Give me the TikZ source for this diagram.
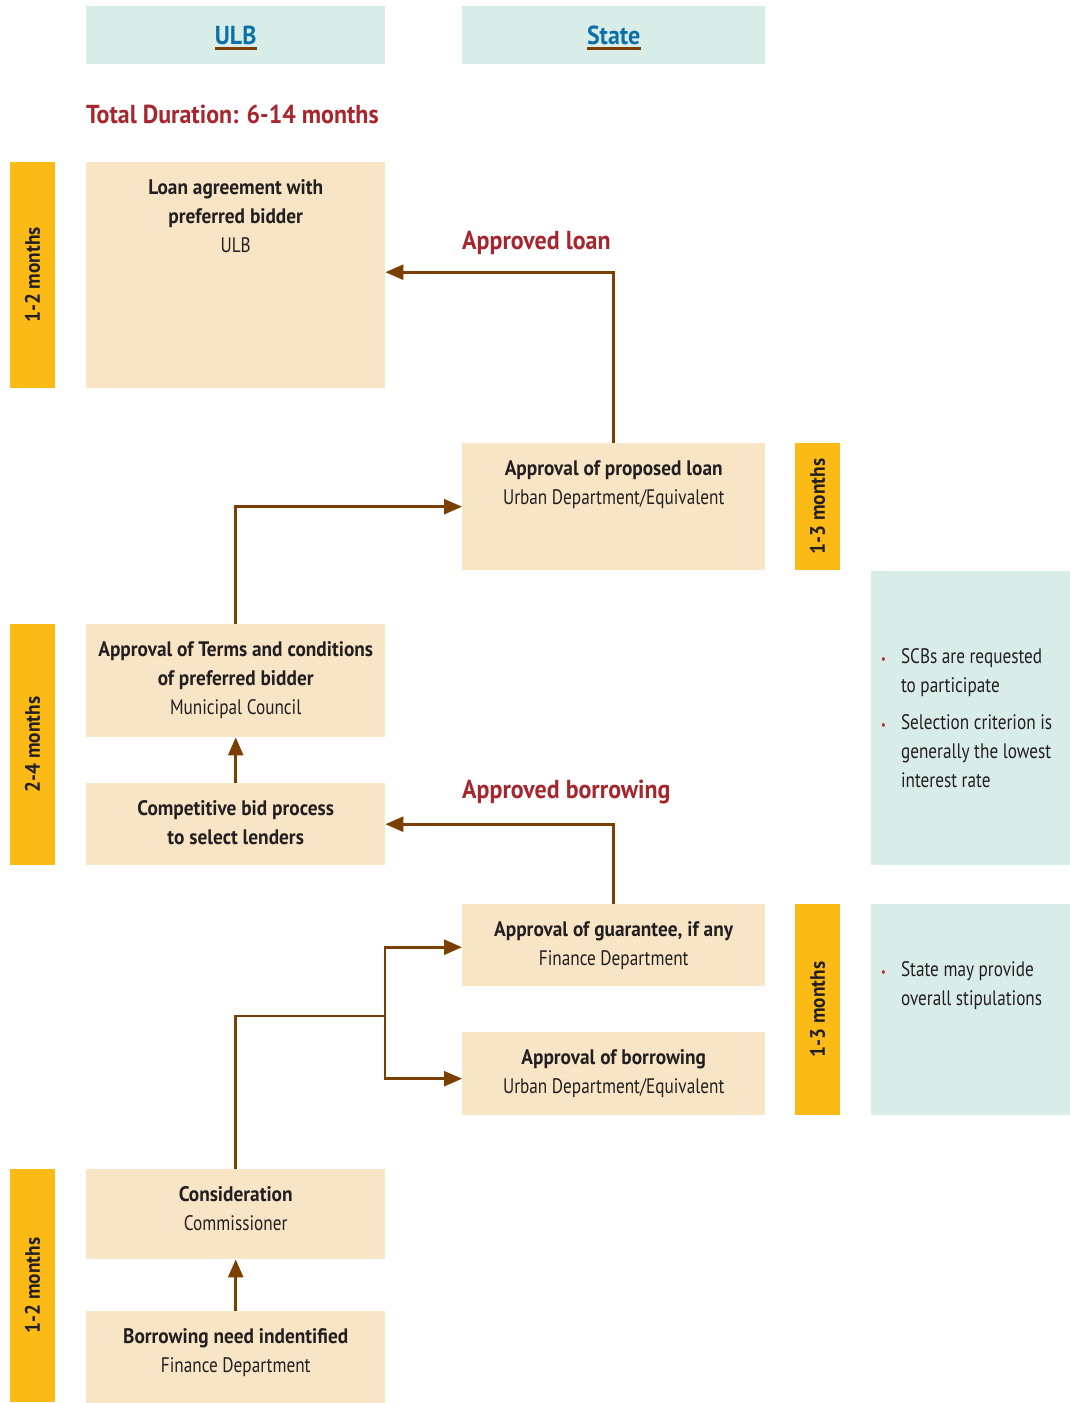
\documentclass[tikz,border=0pt]{standalone}
\usepackage{fontspec}
\setmainfont{PT Sans}[FakeStretch=0.82, BoldFeatures={FakeStretch=0.92}]
\usetikzlibrary{arrows.meta, positioning}
\definecolor{beige}{HTML}{F8E5C6}
\definecolor{tealbg}{HTML}{D9EDE8}
\definecolor{amber}{HTML}{FBBA16}
\definecolor{brownline}{HTML}{7B3F00}
\definecolor{darkred}{HTML}{A6262E}
\definecolor{headblue}{HTML}{0B6FA9}
\definecolor{textgray}{HTML}{231F20}
\definecolor{bulletred}{HTML}{B5283A}
\newcommand{\bul}{\textcolor{bulletred}{\fontsize{13}{13}\selectfont\textbullet}}
\tikzset{
  stepbox/.style={
    rectangle, fill=beige, anchor=north west, minimum width=299pt, inner sep=0pt
  },
  boxtext/.style={
    align=center, inner sep=0pt, text=textgray, anchor=north
  },
  headbox/.style={
    rectangle, fill=tealbg, anchor=north west, minimum height=58pt, inner sep=0pt
  },
  headtext/.style={
    font=\fontsize{26}{32}\selectfont\bfseries, text=headblue, inner sep=0pt
  },
  uline/.style={
    draw=brownline, line width=3pt
  },
  bar/.style={
    rectangle, fill=amber, rotate=90, minimum height=45pt, inner sep=0pt,
    font=\fontsize{21}{25}\selectfont\bfseries, text=textgray
  },
  notebox/.style={
    rectangle, fill=tealbg, anchor=north west, minimum width=199pt, inner sep=0pt
  },
  redtitle/.style={
    font=\fontsize{26}{32}\selectfont\bfseries, text=darkred, inner sep=0pt, anchor=west
  },
  flow/.style={
    draw=brownline, line width=2.6pt, -{Triangle[length=18pt, width=15pt]}
  }
}
\begin{document}
\begin{tikzpicture}[x=1pt, y=-1pt, font=\fontsize{21}{29}\selectfont]
\useasboundingbox (0,0) rectangle (1070,1403);

% column headers
\node[headbox, minimum width=299pt] (ulbh) at (86,6) {};
\node[headtext] (ulbt) at (ulbh.center) {ULB};
\draw[uline] ([yshift=-4pt]ulbt.south west) -- ([yshift=-4pt]ulbt.south east);
\node[headbox, minimum width=303pt] (stateh) at (462,6) {};
\node[headtext] (statet) at (stateh.center) {State};
\draw[uline] ([yshift=-4pt]statet.south west) -- ([yshift=-4pt]statet.south east);

\node[redtitle] (total) at (86,114) {Total Duration: 6-14 months};

% ULB steps
\node[stepbox, minimum height=226pt] (loan) at (86,162) {};
\node[boxtext, below=17pt of loan.north] (loant) {\textbf{Loan agreement with}\\\textbf{preferred bidder}\\ULB};
\node[stepbox, minimum height=113pt] (terms) at (86,624) {};
\node[boxtext, below=17pt of terms.north] (termst) {\textbf{Approval of Terms and conditions}\\\textbf{of preferred bidder}\\Municipal Council};
\node[stepbox, minimum height=82pt] (bid) at (86,783) {};
\node[boxtext, below=17pt of bid.north] (bidt) {\textbf{Competitive bid process}\\\textbf{to select lenders}};
\node[stepbox, minimum height=90pt] (cons) at (86,1169) {};
\node[boxtext, below=17pt of cons.north] (const) {\textbf{Consideration}\\Commissioner};
\node[stepbox, minimum height=92pt] (need) at (86,1311) {};
\node[boxtext, below=17pt of need.north] (needt) {\textbf{Borrowing need indentified}\\Finance Department};

% State steps
\node[stepbox, minimum width=303pt, minimum height=127pt] (propl) at (462,443) {};
\node[boxtext, below=17pt of propl.north] (proplt) {\textbf{Approval of proposed loan}\\Urban Department/Equivalent};
\node[stepbox, minimum width=303pt, minimum height=82pt] (guar) at (462,904) {};
\node[boxtext, below=17pt of guar.north] (guart) {\textbf{Approval of guarantee, if any}\\Finance Department};
\node[stepbox, minimum width=303pt, minimum height=83pt] (borr) at (462,1032) {};
\node[boxtext, below=17pt of borr.north] (borrt) {\textbf{Approval of borrowing}\\Urban Department/Equivalent};

% duration bars
\node[bar, minimum width=226pt] (dur1) at (32.5,275) {1-2 months};
\node[bar, minimum width=241pt] (dur2) at (32.5,744.5) {2-4 months};
\node[bar, minimum width=233pt] (dur3) at (32.5,1285.5) {1-2 months};
\node[bar, minimum width=127pt] (dur4) at (817.5,506.5) {1-3 months};
\node[bar, minimum width=211pt] (dur5) at (817.5,1009.5) {1-3 months};

% notes
\node[notebox, minimum height=294pt] (note1) at (871,571) {};
\node[inner sep=0pt, anchor=north west, text=textgray] (note1t) at (881,643) {%
  \begin{tabular}{@{}l@{\hspace{15pt}}l@{}}
  \bul & SCBs are requested\\
       & to participate\\[8pt]
  \bul & Selection criterion is\\
       & generally the lowest\\
       & interest rate
  \end{tabular}};
\node[notebox, minimum height=211pt] (note2) at (871,904) {};
\node[inner sep=0pt, anchor=north west, text=textgray] (note2t) at (881,956) {%
  \begin{tabular}{@{}l@{\hspace{15pt}}l@{}}
  \bul & State may provide\\
       & overall stipulations
  \end{tabular}};

% flows
\coordinate (split) at (385,1016);
\draw[flow] (need) -- (cons);
\draw[flow, -] (cons.north) |- (split);
\draw[flow] (split) |- ([yshift=-2pt]guar.west);
\draw[flow] (split) |- ([yshift=-5pt]borr.west);
\draw[flow] (guar.north) |- (bid.east);
\draw[flow] (bid) -- (terms);
\draw[flow] (terms.north) |- (propl.west);
\draw[flow] (propl.north) |- ([yshift=3pt]loan.east);
\node[redtitle] (apl) at (462,243) {Approved loan};
\node[redtitle] (apb) at (462,792) {Approved borrowing};
\end{tikzpicture}
\end{document}
